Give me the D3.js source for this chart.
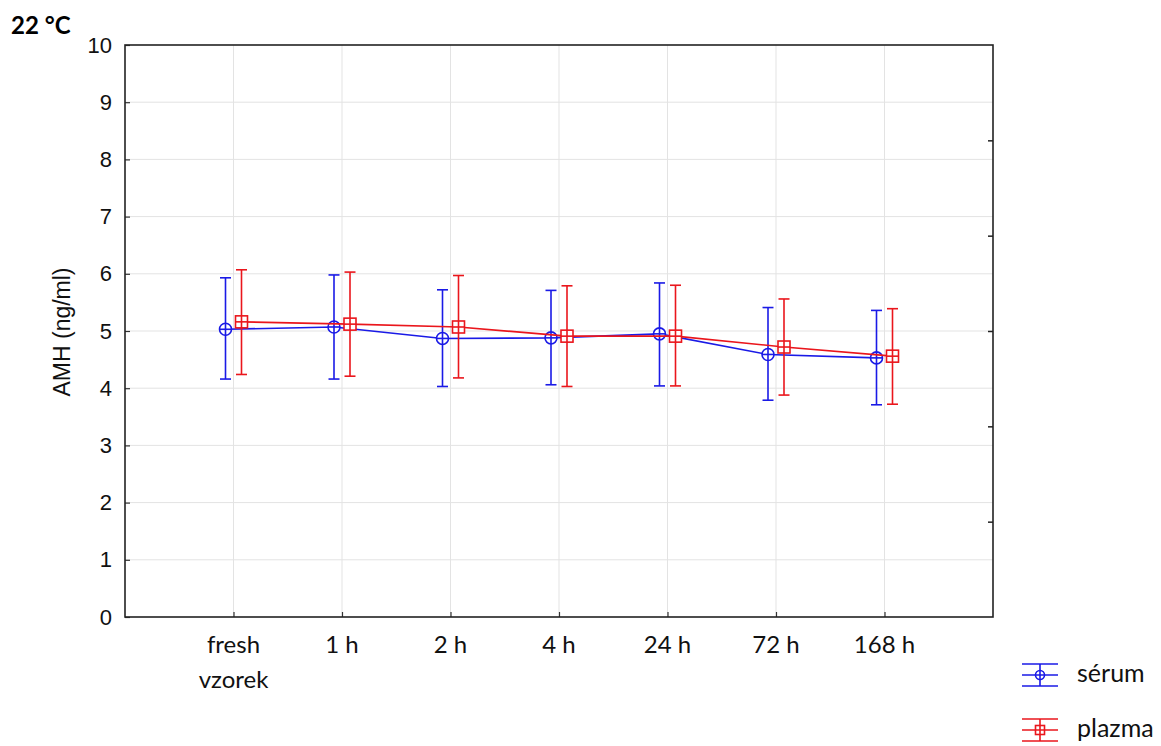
<!DOCTYPE html>
<html>
<head>
<meta charset="utf-8">
<script src="https://cdn.jsdelivr.net/npm/d3@7/dist/d3.min.js"></script>
<style>
  html, body { margin: 0; padding: 0; background: #fff; }
  svg { display: block; }
</style>
</head>
<body>
<svg id="chart" width="1161" height="746"></svg>
<script>
// Time points after sampling
const categories = ["fresh\nvzorek", "1 h", "2 h", "4 h", "24 h", "72 h", "168 h"];

// AMH means (ng/ml) with lower / upper error bounds
const serumMean  = [5.03, 5.07, 4.87, 4.88, 4.95, 4.59, 4.53];
const serumLow   = [4.16, 4.16, 4.03, 4.06, 4.04, 3.79, 3.71];
const serumHigh  = [5.93, 5.98, 5.72, 5.71, 5.84, 5.41, 5.36];

const plasmaMean = [5.16, 5.12, 5.07, 4.91, 4.91, 4.72, 4.56];
const plasmaLow  = [4.24, 4.21, 4.18, 4.03, 4.04, 3.88, 3.72];
const plasmaHigh = [6.07, 6.03, 5.97, 5.79, 5.80, 5.56, 5.39];

const yTicks = [0, 1, 2, 3, 4, 5, 6, 7, 8, 9, 10];
const rightTicks = [10 / 6, 20 / 6, 30 / 6, 40 / 6, 50 / 6];

const series = [
  { name: "sérum",  mean: serumMean,  low: serumLow,  high: serumHigh,  color: "#1a1ae6", shift: -8, shape: "circle" },
  { name: "plazma", mean: plasmaMean, low: plasmaLow, high: plasmaHigh, color: "#ea161c", shift: 8,  shape: "square" }
];

const svg = d3.select("#chart");
const plot = { left: 125, right: 993, top: 45, bottom: 617 };

const x = d3.scaleLinear().domain([0, categories.length + 1]).range([plot.left, plot.right]);
const y = d3.scaleLinear().domain([0, 10]).range([plot.bottom, plot.top]);

// Grid
const grid = svg.append("g").attr("stroke", "#e3e3e3").attr("stroke-width", 1);
grid.selectAll("line.h").data(yTicks.slice(1, -1)).join("line")
  .attr("x1", plot.left).attr("x2", plot.right)
  .attr("y1", d => y(d)).attr("y2", d => y(d));
grid.selectAll("line.v").data(categories).join("line")
  .attr("x1", (d, i) => x(i + 1)).attr("x2", (d, i) => x(i + 1))
  .attr("y1", plot.top).attr("y2", plot.bottom);

// Left axis (ticks pointing inward)
const yAxis = d3.axisLeft(y).tickValues(yTicks).tickSize(-5).tickPadding(13).tickFormat(d3.format("d"));
const gy = svg.append("g").attr("transform", `translate(${plot.left},0)`).call(yAxis);
gy.select(".domain").remove();
gy.selectAll(".tick line").attr("stroke", "#333").attr("stroke-width", 1.2);
gy.selectAll(".tick text")
  .attr("font-family", "'Liberation Sans', Arial, sans-serif")
  .attr("font-size", 22).attr("fill", "#111");

// Bottom axis (ticks pointing inward)
const xAxis = d3.axisBottom(x).tickValues(d3.range(1, categories.length + 1)).tickSize(-5).tickFormat("");
const gx = svg.append("g").attr("transform", `translate(0,${plot.bottom})`).call(xAxis);
gx.select(".domain").remove();
gx.selectAll(".tick line").attr("stroke", "#333").attr("stroke-width", 1.2);

const xLabels = svg.append("g")
  .attr("font-family", "Lato, 'Open Sans', sans-serif")
  .attr("font-size", 24).attr("fill", "#111").attr("text-anchor", "middle");
categories.forEach((c, i) => {
  const t = xLabels.append("text").attr("x", x(i + 1)).attr("y", 653);
  c.split("\n").forEach((part, k) => {
    t.append("tspan").attr("x", x(i + 1)).attr("dy", k === 0 ? 0 : 35).text(part);
  });
});

// Right axis: short inward ticks
const yRight = d3.axisRight(y).tickValues(rightTicks).tickSize(-5).tickFormat("");
const gr = svg.append("g").attr("transform", `translate(${plot.right},0)`).call(yRight);
gr.select(".domain").remove();
gr.selectAll(".tick line").attr("stroke", "#222").attr("stroke-width", 1.5);

// Frame
svg.append("rect")
  .attr("x", plot.left).attr("y", plot.top)
  .attr("width", plot.right - plot.left).attr("height", plot.bottom - plot.top)
  .attr("fill", "none").attr("stroke", "#222").attr("stroke-width", 1.6);

// Series: connecting line, error bars, markers
const capHalf = 5.5;
const mk = 6;
series.forEach(s => {
  const g = svg.append("g").attr("stroke", s.color).attr("fill", "none").attr("stroke-width", 1.6);
  const px = i => x(i + 1) + s.shift;

  g.append("path")
    .attr("d", d3.line().x((d, i) => px(i)).y(d => y(d))(s.mean));

  s.mean.forEach((m, i) => {
    const cx = px(i);
    g.append("line").attr("x1", cx).attr("x2", cx).attr("y1", y(s.low[i])).attr("y2", y(s.high[i]));
    g.append("line").attr("x1", cx - capHalf).attr("x2", cx + capHalf).attr("y1", y(s.high[i])).attr("y2", y(s.high[i]));
    g.append("line").attr("x1", cx - capHalf).attr("x2", cx + capHalf).attr("y1", y(s.low[i])).attr("y2", y(s.low[i]));
    if (s.shape === "circle") {
      g.append("circle").attr("cx", cx).attr("cy", y(m)).attr("r", mk).attr("fill", "#fff");
    } else {
      g.append("rect").attr("x", cx - mk).attr("y", y(m) - mk).attr("width", 2 * mk).attr("height", 2 * mk).attr("fill", "#fff");
    }
    g.append("line").attr("x1", cx).attr("x2", cx).attr("y1", y(m) - mk).attr("y2", y(m) + mk);
    g.append("line").attr("x1", cx - mk).attr("x2", cx + mk).attr("y1", y(m)).attr("y2", y(m));
  });
});

// Axis title
svg.append("text")
  .attr("transform", `translate(70,${(plot.top + plot.bottom) / 2 + 1}) rotate(-90)`)
  .attr("text-anchor", "middle")
  .attr("font-family", "'Liberation Sans', Arial, sans-serif")
  .attr("font-size", 23).attr("fill", "#111")
  .text("AMH (ng/ml)");

// Chart title
svg.append("text")
  .attr("x", 11).attr("y", 34)
  .attr("font-family", "Lato, 'Open Sans', sans-serif")
  .attr("font-weight", "bold").attr("font-size", 24).attr("fill", "#000")
  .text("22 °C");

// Legend
const legend = svg.append("g");
series.forEach((s, k) => {
  const cy = 675 + k * 55;
  const g = legend.append("g").attr("stroke", s.color).attr("fill", "none").attr("stroke-width", 1.6);
  const x0 = 1022, x1 = 1058, cx = 1040;
  g.append("line").attr("x1", x0).attr("x2", x1).attr("y1", cy - 11).attr("y2", cy - 11);
  g.append("line").attr("x1", x0).attr("x2", x1).attr("y1", cy).attr("y2", cy);
  g.append("line").attr("x1", x0).attr("x2", x1).attr("y1", cy + 11).attr("y2", cy + 11);
  g.append("line").attr("x1", cx).attr("x2", cx).attr("y1", cy - 11).attr("y2", cy + 11);
  if (s.shape === "circle") {
    g.append("circle").attr("cx", cx).attr("cy", cy).attr("r", 4.5);
  } else {
    g.append("rect").attr("x", cx - 4.5).attr("y", cy - 4.5).attr("width", 9).attr("height", 9);
  }
  legend.append("text")
    .attr("x", 1077).attr("y", cy + 7)
    .attr("font-family", "Lato, 'Open Sans', sans-serif")
    .attr("font-size", 25).attr("fill", "#111")
    .text(s.name);
});
</script>
</body>
</html>
